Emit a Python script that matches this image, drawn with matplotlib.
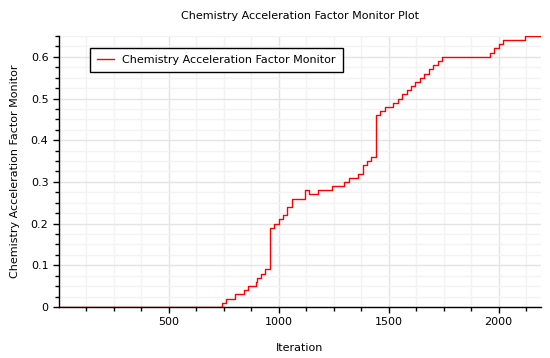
import matplotlib
matplotlib.use('Agg')
import matplotlib.pyplot as plt
from matplotlib.ticker import MultipleLocator, FuncFormatter

# iteration where the monitor value changes, and the value from there on
step_iter = [1, 741, 762, 801, 842, 860, 897, 900, 920, 940, 960, 980, 1001,
             1020, 1039, 1060, 1120, 1139, 1180, 1241, 1298, 1321, 1362, 1382,
             1400, 1420, 1443, 1461, 1482, 1521, 1541, 1561, 1582, 1602, 1621,
             1643, 1663, 1682, 1704, 1724, 1742, 1959, 1980, 2003, 2022, 2121,
             2194]
step_val = [0.00, 0.01, 0.02, 0.03, 0.04, 0.05, 0.06, 0.07, 0.08, 0.09, 0.19,
            0.20, 0.21, 0.22, 0.24, 0.26, 0.28, 0.27, 0.28, 0.29, 0.30, 0.31,
            0.32, 0.34, 0.35, 0.36, 0.46, 0.47, 0.48, 0.49, 0.50, 0.51, 0.52,
            0.53, 0.54, 0.55, 0.56, 0.57, 0.58, 0.59, 0.60, 0.61, 0.62, 0.63,
            0.64, 0.65, 0.65]

fig = plt.figure(figsize=(5.5, 3.58), dpi=100)
ax = fig.add_axes([0.107, 0.1425, 0.877, 0.757])

ax.step(step_iter, step_val, where='post', color='#ff0000', linewidth=1.0,
        label='Chemistry Acceleration Factor Monitor')

ax.set_xlim(1, 2194)
ax.set_ylim(0, 0.65)

ax.xaxis.set_major_locator(MultipleLocator(500))
ax.xaxis.set_minor_locator(MultipleLocator(125))
ax.yaxis.set_major_locator(MultipleLocator(0.1))
ax.yaxis.set_minor_locator(MultipleLocator(0.025))
ax.yaxis.set_major_formatter(FuncFormatter(lambda v, p: '%g' % round(v, 2)))

ax.grid(which='major', color='#e4e4e4', linewidth=1.0)
ax.grid(which='minor', color='#f3f3f3', linewidth=1.0)
ax.set_axisbelow(True)

for s in ['top', 'right']:
    ax.spines[s].set_visible(False)
ax.spines['left'].set_linewidth(1.0)
ax.spines['bottom'].set_linewidth(1.0)

ax.tick_params(which='major', direction='out', length=4, width=1, labelsize=8,
               colors='black')
ax.tick_params(which='minor', direction='out', length=3, width=1)

ax.set_title('Chemistry Acceleration Factor Monitor Plot', fontsize=8, pad=12)
ax.set_xlabel('Iteration', fontsize=8, labelpad=11)
ax.set_ylabel('Chemistry Acceleration Factor Monitor', fontsize=8, labelpad=8)

leg = ax.legend(loc='upper left', bbox_to_anchor=(0.064, 0.956), fontsize=8,
                fancybox=False, framealpha=1, edgecolor='black',
                handlelength=1.5, borderpad=0.65, borderaxespad=0)
leg.get_frame().set_linewidth(1.0)

plt.savefig('out.png', dpi=100)
